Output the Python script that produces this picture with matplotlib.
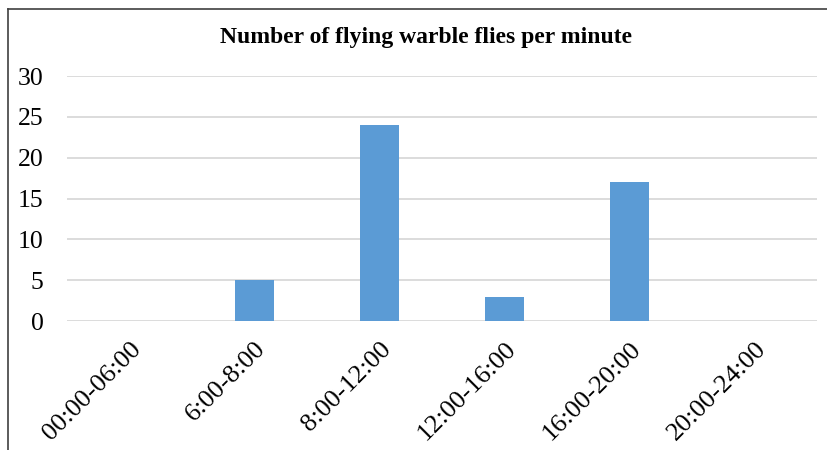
import matplotlib.pyplot as plt
from matplotlib.lines import Line2D

categories = ["00:00-06:00", "6:00-8:00", "8:00-12:00", "12:00-16:00", "16:00-20:00", "20:00-24:00"]
flies = [0, 5, 24, 3, 17, 0]
yticks = [0, 5, 10, 15, 20, 25, 30]

plt.rcParams['font.family'] = ['Liberation Serif', 'DejaVu Serif']

W, H = 828, 450
fig = plt.figure(figsize=(W / 100, H / 100), dpi=100)
ax = fig.add_axes([67 / W, 1 - 321 / H, (817 - 67) / W, (321 - 76) / H])

x = list(range(len(categories)))
ax.bar(x, flies, width=0.31, color="#5B9BD5", zorder=3)
ax.set_xlim(-0.5, len(categories) - 0.5)
ax.set_ylim(0, 30)
ax.set_yticks(yticks)
ax.set_yticklabels([str(v) for v in yticks], fontsize=18.5)
ax.set_xticks(x)
ax.set_xticklabels(categories, fontsize=19, rotation=45, ha="right", va="top",
                   rotation_mode="anchor")
ax.tick_params(axis="both", length=0)
ax.tick_params(axis="y", pad=17)
ax.tick_params(axis="x", pad=12)
ax.grid(axis="y", color="#D9D9D9", linewidth=1.3, zorder=0)
for s in ax.spines.values():
    s.set_visible(False)

fig.text(426 / W, 1 - 37 / H, "Number of flying warble flies per minute",
         fontsize=17, fontweight="bold", ha="center", va="center")

# outer frame (only top and left visible)
fig.add_artist(Line2D([8 / W, 8 / W], [0, 1 - 9 / H], transform=fig.transFigure,
                      color="#404040", linewidth=1.2))
fig.add_artist(Line2D([8 / W, 1], [1 - 9 / H, 1 - 9 / H], transform=fig.transFigure,
                      color="#404040", linewidth=1.2))

fig.savefig("out.png", dpi=100)
